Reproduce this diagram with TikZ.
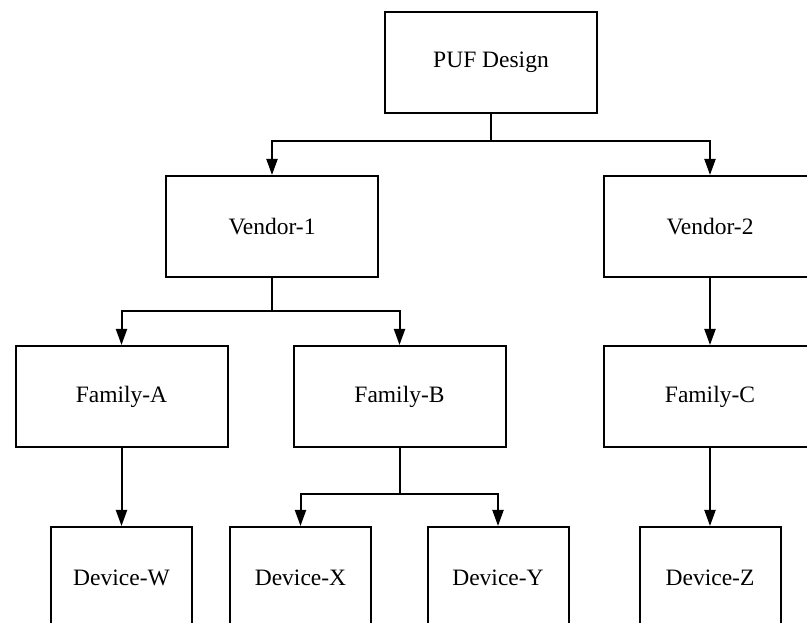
\documentclass[tikz,border=0pt]{standalone}
\usepackage{fontspec}
\setmainfont{Liberation Serif}
\usetikzlibrary{arrows.meta}
\begin{document}
\begin{tikzpicture}[x=1pt,y=1pt,
  box/.style={draw, line width=2pt, minimum width=212pt, minimum height=101pt, inner sep=0pt, font=\fontsize{23.5}{28}\selectfont},
  devbox/.style={box, minimum width=141pt},
  link/.style={line width=2pt},
  arr/.style={link, -{Triangle[length=16pt,width=11pt]}}]
\useasboundingbox (0,0) rectangle (807,623);
\clip (0,0) rectangle (807,623);
\node[box] (puf) at (491,560.5) {PUF Design};
\node[box] (v1) at (272,396.5) {Vendor-1};
\node[box] (v2) at (710,396.5) {Vendor-2};
\node[box] (fa) at (121.5,226.5) {Family-A};
\node[box] (fb) at (399.5,226.5) {Family-B};
\node[box] (fc) at (710,226.5) {Family-C};
\node[devbox] (dw) at (121.5,45.5) {Device-W};
\node[devbox] (dx) at (300.5,45.5) {Device-X};
\node[devbox] (dy) at (498,45.5) {Device-Y};
\node[devbox] (dz) at (710,45.5) {Device-Z};
\coordinate (b1) at (puf.south |- 0,482);
\coordinate (b2) at (v1.south |- 0,312);
\coordinate (b3) at (fb.south |- 0,129);
\draw[link] (puf.south) -- (b1);
\draw[arr] (b1) -| (v1.north);
\draw[arr] (b1) -| (v2.north);
\draw[link] (v1.south) -- (b2);
\draw[arr] (b2) -| (fa.north);
\draw[arr] (b2) -| (fb.north);
\draw[arr] (v2.south) -- (fc.north);
\draw[arr] (fa.south) -- (dw.north);
\draw[link] (fb.south) -- (b3);
\draw[arr] (b3) -| (dx.north);
\draw[arr] (b3) -| (dy.north);
\draw[arr] (fc.south) -- (dz.north);
\end{tikzpicture}
\end{document}
